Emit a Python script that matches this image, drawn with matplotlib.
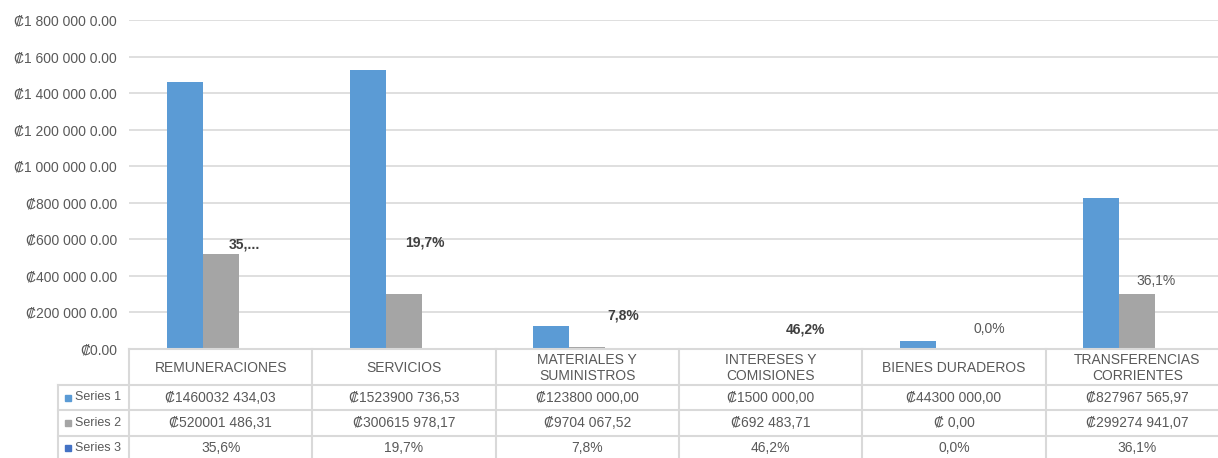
import matplotlib.pyplot as plt
import numpy as np

plt.rcParams['font.family'] = ['Liberation Sans', 'DejaVu Sans']

categories = ['REMUNERACIONES', 'SERVICIOS', 'MATERIALES Y\nSUMINISTROS',
              'INTERESES Y\nCOMISIONES', 'BIENES DURADEROS',
              'TRANSFERENCIAS\nCORRIENTES']
series_names = ['Series 1', 'Series 2', 'Series 3']
series1 = [1460032434.03, 1523900736.53, 123800000.00, 1500000.00, 44300000.00, 827967565.97]
series2 = [520001486.31, 300615978.17, 9704067.52, 692483.71, 0.00, 299274941.07]
series3 = [35.6, 19.7, 7.8, 46.2, 0.0, 36.1]

# table cell strings, as printed in the reference
series1_txt = ['₡1460032 434,03', '₡1523900 736,53', '₡123800 000,00',
               '₡1500 000,00', '₡44300 000,00', '₡827967 565,97']
series2_txt = ['₡520001 486,31', '₡300615 978,17', '₡9704 067,52',
               '₡692 483,71', '₡ 0,00', '₡299274 941,07']
series3_txt = ['35,6%', '19,7%', '7,8%', '46,2%', '0,0%', '36,1%']

# data labels drawn over the (invisible) Series 3 bars
label_txt = ['35,...', '19,7%', '7,8%', '46,2%', '0,0%', '36,1%']
label_bold = [True, True, True, True, False, False]
label_dx = [0.13, 0.115, 0.196, 0.19, 0.19, 0.104]
label_y = [569e6, 585e6, 186e6, 109e6, 109e6, 372e6]

yticks = np.arange(0, 1.8e9 + 1, 2e8)
ytick_labels = ['₡0.00', '₡200 000 0.00', '₡400 000 0.00', '₡600 000 0.00',
                '₡800 000 0.00', '₡1 000 000 0.00', '₡1 200 000 0.00',
                '₡1 400 000 0.00', '₡1 600 000 0.00', '₡1 800 000 0.00']

colors = ['#5B9BD5', '#A5A5A5', '#4472C4']
text_col = '#595959'
grid_col = '#D9D9D9'

W, H = 1218, 458
fig = plt.figure(figsize=(W / 100, H / 100), dpi=100)

x0, x1 = 129, 1229     # plot area left/right in pixels
ybase, ytop = 349, 20
ax = fig.add_axes([x0 / W, (H - ybase) / H, (x1 - x0) / W, (ybase - ytop) / H])

x = np.arange(len(categories))
bw = 0.196
for k, vals in enumerate([series1, series2, series3]):
    ax.bar(x + (k - 1) * bw, vals, bw, color=colors[k], zorder=2)

for i, t in enumerate(label_txt):
    ax.text(x[i] + label_dx[i], label_y[i], t, ha='center', va='center',
            fontsize=10, color='#404040' if label_bold[i] else text_col,
            fontweight='bold' if label_bold[i] else 'normal')

ax.set_xlim(-0.5, len(categories) - 0.5)
ax.set_ylim(0, 1.8e9)
ax.set_yticks(yticks)
ax.set_yticklabels(ytick_labels)
ax.tick_params(axis='y', length=0, pad=8.5, labelsize=10, labelcolor=text_col)
ax.set_xticks([])
ax.grid(axis='y', color=grid_col, lw=1.2, zorder=0)
for s in ax.spines.values():
    s.set_visible(False)

# data table under the chart, in pixel units from the chart base
tab = fig.add_axes([x0 / W, 0, (x1 - x0) / W, (H - ybase) / H])
tab.set_xlim(-0.5, len(categories) - 0.5)
tab.set_ylim(H - ybase, 0)
tab.axis('off')

px = (x1 - x0) / len(categories)   # pixels per category
xl = -0.5 - (x0 - 58) / px         # left edge of the row-name column
rows = [0, 36, 61, 87, 115]
lkw = dict(color=grid_col, lw=1.5, clip_on=False)

tab.plot([-0.5, 5.5], [rows[0]] * 2, **lkw)
for r in rows[1:4]:
    tab.plot([xl, 5.5], [r, r], **lkw)
for b in np.arange(-0.5, 5.0, 1.0):
    tab.plot([b, b], [rows[0], rows[-1]], **lkw)
tab.plot([xl, xl], [rows[1], rows[-1]], **lkw)

for i, c in enumerate(categories):
    tab.text(x[i], (rows[0] + rows[1]) / 2 + 1, c, ha='center', va='center',
             fontsize=10, color=text_col, linespacing=1.15)
for j, txts in enumerate([series1_txt, series2_txt, series3_txt]):
    yc = (rows[j + 1] + rows[j + 2]) / 2
    if j == 2:
        yc = rows[3] + 12
    for i, t in enumerate(txts):
        tab.text(x[i], yc, t, ha='center', va='center', fontsize=10, color=text_col)
    tab.plot([-0.5 - 61 / px], [yc], 's', color=colors[j], ms=4.3, clip_on=False)
    tab.text(-0.5 - 54 / px, yc, series_names[j], ha='left', va='center',
             fontsize=9, color=text_col, clip_on=False)

fig.savefig('out.png', dpi=100, facecolor='white')
